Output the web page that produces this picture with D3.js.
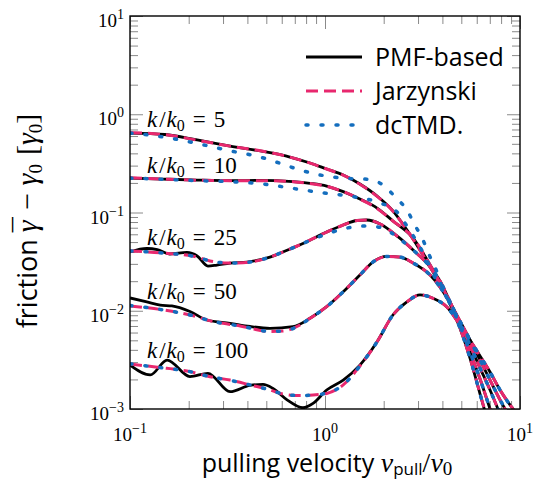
<!DOCTYPE html>
<html>
<head>
<meta charset="utf-8">
<script src="https://cdn.jsdelivr.net/npm/d3@7"></script>
<style>
  body { margin: 0; background: #fff; }
  svg { display: block; }
</style>
</head>
<body>
<div id="chart"></div>
<script>
// Friction vs pulling velocity as [v/v0, friction]

const pmf5 = [[0.1,0.644],[0.151,0.622],[0.221,0.547],[0.326,0.475],[0.481,0.418],[0.661,0.367],[0.838,0.319],[1.02,0.277],[1.24,0.241],[1.51,0.195],[1.85,0.147],[2.23,0.104],[2.57,0.0712],[3.0,0.0446],[3.46,0.0279],[3.89,0.0187],[4.38,0.0117],[4.92,0.00667],[5.54,0.0033],[6.24,0.00142],[6.69,0.00087]];
const jar5 = [[0.1,0.65],[0.151,0.62],[0.221,0.545],[0.326,0.474],[0.481,0.42],[0.661,0.366],[0.838,0.318],[1.02,0.277],[1.24,0.24],[1.51,0.194],[1.85,0.146],[2.23,0.103],[2.57,0.071],[3.0,0.0447],[3.46,0.028],[3.89,0.0188],[4.38,0.0118],[4.92,0.0067],[5.54,0.0033],[6.24,0.00143],[6.69,0.00088]];
const dc5 = [[0.1,0.644],[0.148,0.587],[0.221,0.504],[0.338,0.418],[0.464,0.367],[0.588,0.317],[0.744,0.271],[0.943,0.241],[1.27,0.223],[1.64,0.218],[1.98,0.191],[2.29,0.144],[2.63,0.106],[2.89,0.0746],[3.18,0.0525],[3.46,0.0352],[3.75,0.0248],[3.98,0.0174],[4.38,0.0117],[4.92,0.00667],[5.54,0.0033],[6.24,0.00142],[6.69,0.00087]];

const pmf10 = [[0.1,0.224],[0.148,0.219],[0.221,0.214],[0.326,0.211],[0.464,0.212],[0.685,0.206],[0.838,0.198],[1.02,0.186],[1.24,0.163],[1.51,0.137],[1.85,0.111],[2.23,0.082],[2.83,0.055],[3.46,0.0292],[3.89,0.0192],[4.38,0.012],[4.92,0.007],[5.54,0.0038],[6.24,0.00202],[7.02,0.001],[7.62,0.00061]];
const jar10 = [[0.1,0.226],[0.148,0.219],[0.221,0.213],[0.326,0.211],[0.464,0.211],[0.685,0.206],[0.838,0.197],[1.02,0.185],[1.24,0.163],[1.51,0.137],[1.85,0.11],[2.23,0.082],[2.83,0.055],[3.46,0.0292],[3.89,0.0193],[4.38,0.012],[4.92,0.007],[5.54,0.0038],[6.24,0.00203],[7.02,0.001],[7.62,0.00061]];
const dc10 = [[0.1,0.224],[0.148,0.218],[0.221,0.211],[0.326,0.206],[0.481,0.195],[0.685,0.176],[0.943,0.16],[1.39,0.145],[1.92,0.125],[2.34,0.101],[2.73,0.0648],[3.07,0.0446],[3.38,0.0306],[3.67,0.0215],[3.98,0.0163],[4.38,0.0117],[4.92,0.007],[5.54,0.0038],[6.24,0.00202],[7.02,0.001],[7.62,0.00061]];

const pmf25 = [[0.1,0.0396],[0.122,0.043],[0.138,0.042],[0.16,0.0378],[0.196,0.0392],[0.221,0.0361],[0.251,0.0285],[0.279,0.0292],[0.326,0.0306],[0.398,0.0313],[0.522,0.0352],[0.661,0.0425],[0.771,0.0484],[1.02,0.0633],[1.24,0.0746],[1.46,0.0829],[1.64,0.0839],[1.92,0.0764],[2.34,0.0577],[2.83,0.0415],[3.46,0.0279],[3.89,0.0201],[4.38,0.0123],[4.92,0.0075],[5.54,0.00448],[6.24,0.00261],[7.02,0.00156],[7.71,0.001],[8.38,0.00067]];
const jar25 = [[0.1,0.0406],[0.148,0.0387],[0.221,0.0352],[0.257,0.0321],[0.326,0.0306],[0.412,0.0313],[0.522,0.0352],[0.661,0.0425],[0.771,0.0484],[1.02,0.0633],[1.24,0.0746],[1.46,0.0829],[1.64,0.0839],[1.92,0.0764],[2.34,0.0577],[2.83,0.0415],[3.46,0.0279],[3.89,0.0201],[4.38,0.0123],[4.92,0.0075],[5.54,0.00448],[6.24,0.00261],[7.02,0.00156],[7.71,0.001],[8.38,0.00067]];
const dc25 = [[0.1,0.0406],[0.148,0.0387],[0.221,0.0352],[0.257,0.0321],[0.326,0.0306],[0.412,0.0313],[0.522,0.0352],[0.661,0.0425],[0.771,0.0484],[1.02,0.0604],[1.3,0.0695],[1.64,0.0729],[1.98,0.0695],[2.34,0.0563],[2.83,0.0415],[3.46,0.0279],[3.89,0.0201],[4.38,0.0123],[4.92,0.0075],[5.54,0.00448],[6.24,0.00261],[7.02,0.00156],[7.71,0.001],[8.38,0.00067]];

const pmf50 = [[0.1,0.0135],[0.122,0.0123],[0.143,0.0114],[0.164,0.0112],[0.203,0.00983],[0.248,0.00805],[0.326,0.00745],[0.412,0.00692],[0.522,0.00663],[0.685,0.00688],[0.838,0.00838],[1.02,0.011],[1.24,0.0156],[1.51,0.0231],[1.76,0.0313],[2.08,0.0357],[2.42,0.0352],[2.83,0.0306],[3.46,0.0231],[3.89,0.0174],[4.38,0.012],[4.92,0.00787],[5.54,0.00504],[6.24,0.00315],[7.02,0.00197],[7.9,0.00124],[8.38,0.001],[9.1,0.00072]];
const jar50 = [[0.1,0.0112],[0.148,0.0102],[0.203,0.00905],[0.267,0.00777],[0.367,0.007],[0.522,0.00615],[0.609,0.00622],[0.744,0.00716],[0.838,0.00838],[1.02,0.011],[1.24,0.0156],[1.51,0.0231],[1.76,0.0313],[2.08,0.0357],[2.42,0.0352],[2.83,0.0306],[3.46,0.0231],[3.89,0.0174],[4.38,0.012],[4.92,0.00787],[5.54,0.00504],[6.24,0.00315],[7.02,0.00197],[7.9,0.00124],[8.38,0.001],[9.1,0.00072]];
const dc50 = [[0.1,0.0113],[0.148,0.0102],[0.203,0.00905],[0.267,0.00777],[0.367,0.007],[0.522,0.00618],[0.609,0.00622],[0.744,0.00716],[0.838,0.00838],[1.02,0.011],[1.24,0.0156],[1.51,0.0231],[1.76,0.0313],[2.08,0.0357],[2.42,0.0352],[2.83,0.0306],[3.46,0.0231],[3.89,0.0174],[4.38,0.012],[4.92,0.00787],[5.54,0.00504],[6.24,0.00315],[7.02,0.00197],[7.9,0.00124],[8.38,0.001],[9.1,0.00072]];

const pmf100 = [[0.1,0.0028],[0.127,0.00222],[0.155,0.00315],[0.203,0.00214],[0.251,0.00231],[0.326,0.0015],[0.412,0.00174],[0.481,0.00178],[0.541,0.00162],[0.639,0.00124],[0.771,0.00103],[0.868,0.00114],[1.02,0.00156],[1.24,0.00197],[1.51,0.0028],[1.85,0.00484],[2.23,0.00905],[2.63,0.0123],[3.07,0.0145],[3.58,0.0134],[4.22,0.0109],[4.92,0.00716],[5.54,0.00504],[6.24,0.00346],[7.02,0.00238],[7.9,0.00156],[8.89,0.0011],[9.21,0.001],[10,0.00077]];
const jar100 = [[0.1,0.00287],[0.138,0.00266],[0.203,0.0024],[0.257,0.00213],[0.326,0.00197],[0.412,0.00176],[0.522,0.00156],[0.609,0.00142],[0.744,0.00137],[0.868,0.00139],[1.02,0.00144],[1.24,0.00176],[1.51,0.00274],[1.85,0.00484],[2.23,0.00905],[2.63,0.0123],[3.07,0.0145],[3.58,0.0134],[4.22,0.0109],[4.92,0.00716],[5.54,0.00504],[6.24,0.00346],[7.02,0.00238],[7.9,0.00156],[8.89,0.0011],[9.21,0.001],[10,0.00077]];
const dc100 = [[0.1,0.00288],[0.138,0.00266],[0.203,0.0024],[0.257,0.00213],[0.326,0.00196],[0.412,0.00176],[0.522,0.00156],[0.609,0.00142],[0.744,0.00137],[0.868,0.00139],[1.02,0.00145],[1.24,0.00176],[1.51,0.00274],[1.85,0.00484],[2.23,0.00905],[2.63,0.0123],[3.07,0.0145],[3.58,0.0134],[4.22,0.0109],[4.92,0.00716],[5.54,0.00504],[6.24,0.00346],[7.02,0.00238],[7.9,0.00156],[8.89,0.0011],[9.21,0.001],[10,0.00077]];

const stiffness = [5, 10, 25, 50, 100];
const seriesNames = ["PMF-based", "Jarzynski", "dcTMD."];
const xMajor = [0.1, 1, 10];
const yMajor = [0.001, 0.01, 0.1, 1, 10];
const xTickExp = ["\u22121", "0", "1"];
const yTickExp = ["\u22123", "\u22122", "\u22121", "0", "1"];

function drawChart() {
    const W = 538, H = 479;
    const margin = {top: 16, right: 18, bottom: 70, left: 130};
    const width = W - margin.left - margin.right,
          height = H - margin.top - margin.bottom;

    const root = d3.select("#chart").append("svg")
        .attr("width", W)
        .attr("height", H);

    const svg = root.append("g")
        .attr("transform", `translate(${margin.left},${margin.top})`);

    const x = d3.scaleLog().domain([0.1, 10]).range([0, width]);
    const y = d3.scaleLog().domain([0.001, 10]).range([height, 0]);

    // minor ticks 2..9 in every decade
    const mult = [2, 3, 4, 5, 6, 7, 8, 9];
    const xMinor = xMajor.slice(0, -1).flatMap(d => mult.map(m => m * d));
    const yMinor = yMajor.slice(0, -1).flatMap(d => mult.map(m => m * d));

    const tickColor = "#8a8a8a";
    function ticks(axis, values, size, transform) {
        svg.append("g")
            .attr("transform", transform || null)
            .call(axis.tickValues(values).tickSizeInner(-size).tickSizeOuter(0).tickFormat(""))
            .call(g => g.select(".domain").remove())
            .call(g => g.selectAll("line").attr("stroke", tickColor).attr("stroke-width", 1));
    }
    ticks(d3.axisBottom(x), xMajor, 13, `translate(0,${height})`);
    ticks(d3.axisBottom(x), xMinor, 8, `translate(0,${height})`);
    ticks(d3.axisTop(x), xMajor, 13);
    ticks(d3.axisTop(x), xMinor, 8);
    ticks(d3.axisLeft(y), yMajor, 13);
    ticks(d3.axisLeft(y), yMinor, 8);
    ticks(d3.axisRight(y), yMajor, 13, `translate(${width},0)`);
    ticks(d3.axisRight(y), yMinor, 8, `translate(${width},0)`);

    // tick labels 10^n
    const serif = "'Liberation Serif', 'Times New Roman', serif";
    yMajor.forEach((v, i) => {
        const t = svg.append("text")
            .attr("x", -6)
            .attr("y", y(v) + 11)
            .attr("text-anchor", "end")
            .style("font-family", serif)
            .style("font-size", "19px");
        t.append("tspan").text("10");
        t.append("tspan").attr("dy", -8).style("font-size", "14px").text(yTickExp[i]);
    });
    xMajor.forEach((v, i) => {
        const t = svg.append("text")
            .attr("x", x(v))
            .attr("y", height + 32)
            .attr("text-anchor", "middle")
            .style("font-family", serif)
            .style("font-size", "19px");
        t.append("tspan").text("10");
        t.append("tspan").attr("dy", -8).style("font-size", "14px").text(xTickExp[i]);
    });

    // curves
    svg.append("clipPath").attr("id", "plot-clip")
        .append("rect").attr("width", width).attr("height", height);

    const line = d3.line()
        .x(d => x(d[0]))
        .y(d => y(d[1]))
        .curve(d3.curveMonotoneX);

    const styles = {
        "PMF-based": {stroke: "#000000", width: 2.8, dash: null, cap: "butt"},
        "Jarzynski": {stroke: "#e8286e", width: 3, dash: "12,6", cap: "butt"},
        "dcTMD.": {stroke: "#146ebe", width: 3.5, dash: "2,13", cap: "round"}
    };

    const bySeries = {
        "PMF-based": [pmf5, pmf10, pmf25, pmf50, pmf100],
        "Jarzynski": [jar5, jar10, jar25, jar50, jar100],
        "dcTMD.": [dc5, dc10, dc25, dc50, dc100]
    };

    const curves = svg.append("g").attr("clip-path", "url(#plot-clip)");
    seriesNames.forEach(name => {
        const s = styles[name];
        curves.selectAll(null)
            .data(bySeries[name])
            .enter()
            .append("path")
            .attr("d", line)
            .attr("fill", "none")
            .attr("stroke", s.stroke)
            .attr("stroke-width", s.width)
            .attr("stroke-dasharray", s.dash)
            .attr("stroke-linecap", s.cap);
    });

    // frame
    svg.append("rect")
        .attr("width", width)
        .attr("height", height)
        .attr("fill", "none")
        .attr("stroke", "#000")
        .attr("stroke-width", 1.4);

    // k/k0 labels, px offset above the start of each PMF curve
    const labelOffset = [6, 5, 7, -1, 7];
    stiffness.forEach((k, i) => {
        const t = svg.append("text")
            .attr("x", 17)
            .attr("y", y(bySeries["PMF-based"][i][0][1]) - labelOffset[i])
            .style("font-family", serif)
            .style("font-size", "23px");
        t.append("tspan").style("font-style", "italic").text("k");
        t.append("tspan").attr("dx", 2).text("/");
        t.append("tspan").attr("dx", 1).style("font-style", "italic").text("k");
        t.append("tspan").attr("dy", 4).style("font-size", "16px").text("0");
        t.append("tspan").attr("dy", -4).attr("dx", 8).text("=");
        t.append("tspan").attr("dx", 8).text(k);
    });

    // legend
    const sans = "'Open Sans', 'DejaVu Sans', sans-serif";
    const legend = svg.append("g").attr("transform", `translate(${306 - margin.left},${57 - margin.top})`);
    seriesNames.forEach((name, i) => {
        const s = styles[name];
        const row = legend.append("g").attr("transform", `translate(0,${i * 34})`);
        row.append("line")
            .attr("x1", 0).attr("x2", 56)
            .attr("stroke", s.stroke)
            .attr("stroke-width", s.width)
            .attr("stroke-dasharray", s.dash)
            .attr("stroke-linecap", s.cap);
        row.append("text")
            .attr("x", 69)
            .attr("y", 9)
            .style("font-family", sans)
            .style("font-size", "25px")
            .text(name);
    });

    // axis labels
    const xl = root.append("text")
        .attr("x", 327)
        .attr("y", 472)
        .attr("text-anchor", "middle")
        .style("font-family", sans)
        .style("font-size", "25px");
    xl.append("tspan").text("pulling velocity ");
    xl.append("tspan").style("font-family", serif).style("font-style", "italic").style("font-size", "28px").text("v");
    xl.append("tspan").attr("dy", 3).style("font-size", "17px").text("pull");
    xl.append("tspan").attr("dy", -3).style("font-family", serif).style("font-size", "28px").text("/");
    xl.append("tspan").style("font-family", serif).style("font-style", "italic").style("font-size", "28px").text("v");
    xl.append("tspan").attr("dy", 3).style("font-family", serif).style("font-size", "19px").text("0");

    const yl = root.append("text")
        .attr("transform", "translate(37,221) rotate(-90)")
        .attr("text-anchor", "middle")
        .style("font-family", serif)
        .style("font-size", "30px");
    yl.append("tspan").style("font-family", sans).style("font-size", "27px").text("friction ");
    yl.append("tspan").style("font-style", "italic").text("\u03b3");
    // bar over gamma
    yl.append("tspan").attr("dx", -12).attr("dy", -3).text("\u00af");
    yl.append("tspan").attr("dy", 3).text(" \u2212 ");
    yl.append("tspan").style("font-style", "italic").text("\u03b3");
    yl.append("tspan").attr("dy", 5).style("font-size", "19px").text("0");
    yl.append("tspan").attr("dy", -5).attr("dx", 9).text("[");
    yl.append("tspan").style("font-style", "italic").text("\u03b3");
    yl.append("tspan").attr("dy", 5).style("font-size", "19px").text("0");
    yl.append("tspan").attr("dy", -5).text("]");
}

document.addEventListener('DOMContentLoaded', drawChart);
</script>
</body>
</html>
